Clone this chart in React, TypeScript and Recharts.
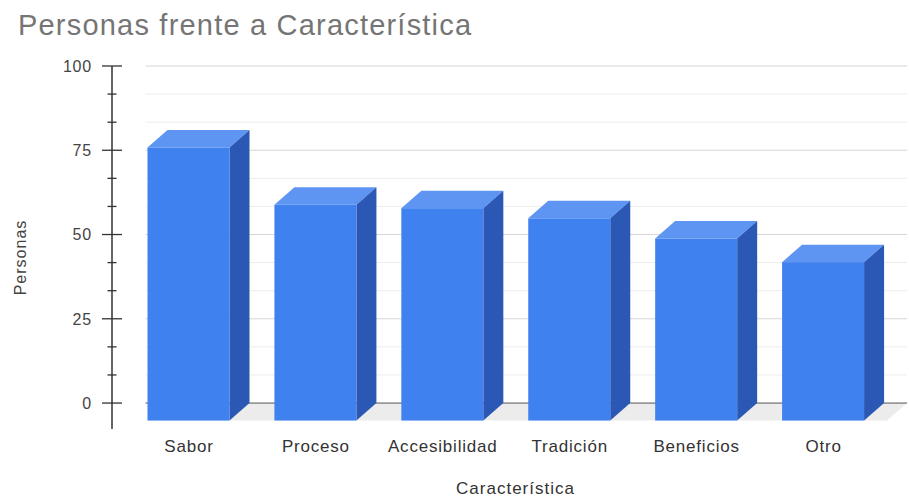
import React from "react";
import { BarChart, Bar, XAxis, YAxis, ReferenceLine, ReferenceArea } from "recharts";

const categories = ["Sabor", "Proceso", "Accesibilidad", "Tradición", "Beneficios", "Otro"];
const personas = [81, 64, 63, 60, 54, 47];
const yTicks = [0, 8.33, 16.67, 25, 33.33, 41.67, 50, 58.33, 66.67, 75, 83.33, 91.67, 100];
const majorTicks = [0, 25, 50, 75, 100];

const data = categories.map((name, i) => ({ name, personas: personas[i] }));

// 3d look: the front face sits down-left of the back wall
const DEPTH_X = 20;
const DEPTH_Y = 17.5;
const BACK_PAD = 33.5;
const FONT = '"Liberation Sans", Arial, sans-serif';

const COLORS = { front: "#3f81ee", top: "#5e94f2", side: "#2b58b4" };

function Bar3D(props: any) {
    const { x, y, width, height } = props;
    if (width == null || height == null) return null;
    const fx = x - DEPTH_X;
    const fy = y + DEPTH_Y;
    return (
        <g>
            <polygon points={`${fx},${fy} ${fx + width},${fy} ${x + width},${y} ${x},${y}`} fill={COLORS.top} />
            <polygon
                points={`${fx + width},${fy} ${x + width},${y} ${x + width},${y + height} ${fx + width},${fy + height}`}
                fill={COLORS.side}
            />
            <rect x={fx} y={fy} width={width} height={height} fill={COLORS.front} />
        </g>
    );
}

function Floor(props: any) {
    const { x, y, width } = props;
    if (x == null || y == null) return null;
    const pts = [
        `${x + BACK_PAD},${y}`,
        `${x + width},${y}`,
        `${x + width - DEPTH_X},${y + DEPTH_Y}`,
        `${x + BACK_PAD - DEPTH_X},${y + DEPTH_Y}`,
    ].join(" ");
    return <polygon points={pts} fill="#ececec" />;
}

function gridShape(value: number) {
    const stroke = value === 0 ? "#555555" : majorTicks.includes(value) ? "#d6d6d6" : "#ededed";
    return (props: any) => (
        <line x1={props.x1 + BACK_PAD} y1={props.y1} x2={props.x2} y2={props.y2} stroke={stroke} strokeWidth={1} />
    );
}

function YTick(props: any) {
    const { x, y, payload } = props;
    const v = payload.value;
    const major = majorTicks.includes(v);
    const len = major ? 10 : 4.5;
    return (
        <g>
            <line x1={x - len} x2={x + len} y1={y} y2={y} stroke="#333" strokeWidth={1.3} />
            {major ? (
                <text
                    x={x - 20}
                    y={y}
                    dy="0.36em"
                    textAnchor="end"
                    fill="#444"
                    fontFamily={FONT}
                    fontSize={16}
                    letterSpacing={0.8}
                >
                    {v}
                </text>
            ) : null}
        </g>
    );
}

function CategoryTick(props: any) {
    const { x, y, payload } = props;
    return (
        <text
            x={x - DEPTH_X}
            y={y + 23}
            textAnchor="middle"
            fill="#333"
            fontFamily={FONT}
            fontSize={17}
            letterSpacing={0.8}
        >
            {payload.value}
        </text>
    );
}

function YTitle(props: any) {
    const vb = props.viewBox;
    const cy = vb.y + vb.height / 2 + 10;
    return (
        <text
            x={26}
            y={cy}
            transform={`rotate(-90, 26, ${cy})`}
            textAnchor="middle"
            fill="#444"
            fontFamily={FONT}
            fontSize={16}
            letterSpacing={1}
        >
            Personas
        </text>
    );
}

function XTitle(props: any) {
    const vb = props.viewBox;
    return (
        <text
            x={vb.x + vb.width / 2 + 6}
            y={vb.y + 65}
            textAnchor="middle"
            fill="#333"
            fontFamily={FONT}
            fontSize={17}
            letterSpacing={1}
        >
            Característica
        </text>
    );
}

export default function App() {
    return (
        <div style={{ position: "absolute", left: 0, top: 0, width: 909, height: 499, background: "#fff" }}>
            <div
                style={{
                    position: "absolute",
                    left: 18,
                    top: 10.5,
                    fontFamily: FONT,
                    fontSize: 29,
                    lineHeight: "29px",
                    letterSpacing: 1.2,
                    color: "#757575",
                    whiteSpace: "nowrap",
                    zIndex: 2,
                }}
            >
                Personas frente a Característica
            </div>
            <BarChart width={909} height={499} data={data} margin={{ top: 66, right: 2, left: 0, bottom: 0 }}>
                <XAxis
                    dataKey="name"
                    padding={{ left: BACK_PAD, right: 0 }}
                    axisLine={false}
                    tickLine={false}
                    tickSize={0}
                    tickMargin={0}
                    height={70}
                    interval={0}
                    tick={<CategoryTick />}
                    label={<XTitle />}
                />
                <YAxis
                    width={112}
                    domain={[-7.7, 100]}
                    ticks={yTicks}
                    interval={0}
                    tickSize={0}
                    tickMargin={0}
                    tickLine={false}
                    axisLine={{ stroke: "#333", strokeWidth: 1.5 }}
                    tick={<YTick />}
                    label={<YTitle />}
                />
                <ReferenceArea y1={-1} y2={0} shape={<Floor />} zIndex={-60} ifOverflow="visible" />
                {yTicks.map((v) => (
                    <ReferenceLine key={v} y={v} shape={gridShape(v)} zIndex={-50} />
                ))}
                <Bar dataKey="personas" barSize={82} shape={<Bar3D />} isAnimationActive={false} />
            </BarChart>
        </div>
    );
}
